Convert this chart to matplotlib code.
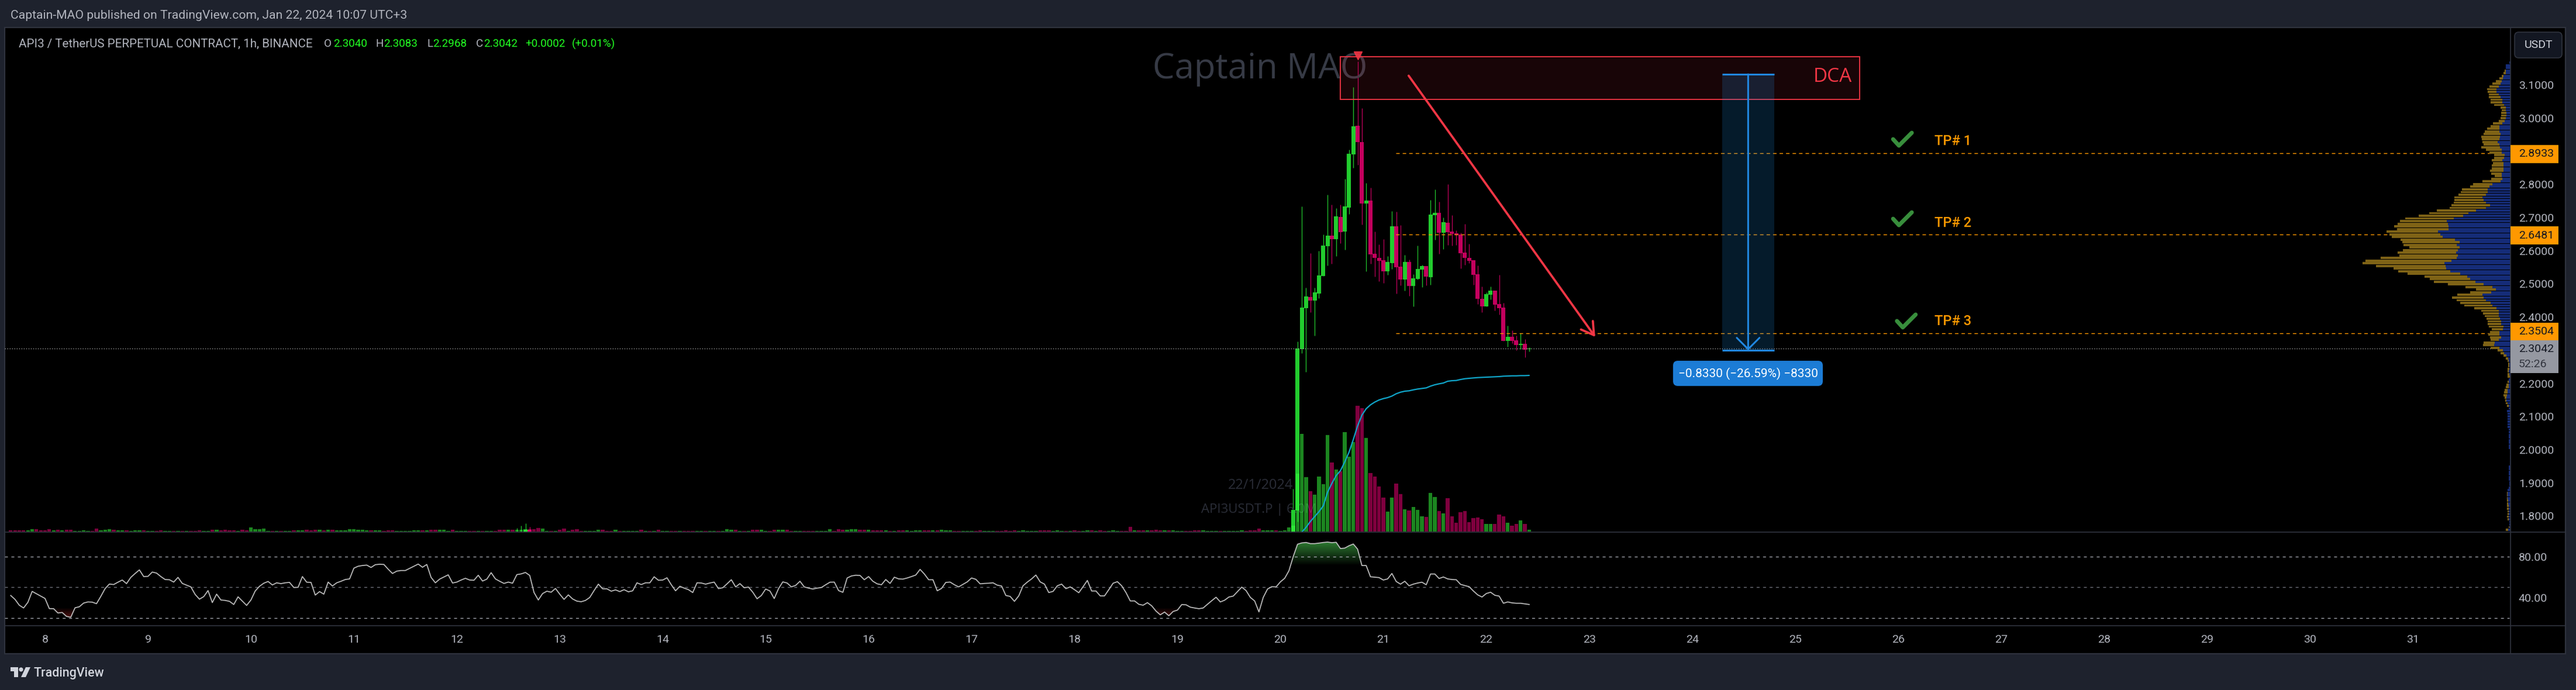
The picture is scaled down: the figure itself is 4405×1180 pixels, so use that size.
import numpy as np
import matplotlib
matplotlib.use("Agg")
import matplotlib.pyplot as plt
from matplotlib.transforms import Affine2D
from matplotlib.patches import Rectangle, FancyBboxPatch, Circle, Polygon
from matplotlib.lines import Line2D
from matplotlib.path import Path

plt.rcParams['font.family'] = ['Roboto', 'DejaVu Sans']
plt.rcParams['lines.scale_dashes'] = False

# ---------- DATA (hours counted from Jan 8 00:00) ----------
candle_hours = [110,111,112,113] + list(range(291, 347))
candle_open = [1.70,1.72,1.74,1.758,1.74,1.817,2.3038,2.4272,2.4602,2.4496,2.4708,2.5237,2.6136,2.6454,2.6348,2.7018,2.6577,2.7301,2.8906,2.9770,2.9276,2.7424,2.7512,2.5907,2.5784,2.5713,2.5378,2.5625,2.6736,2.5519,2.5131,2.5660,2.4937,2.5148,2.5431,2.5537,2.5201,2.7071,2.7142,2.6542,2.6842,2.6577,2.6524,2.6489,2.5942,2.5784,2.5713,2.5290,2.4549,2.4319,2.4672,2.4796,2.4390,2.4284,2.3279,2.3402,2.3296,2.3155,2.3190,2.3040]
candle_high = [1.764,1.770,1.778,1.767,1.882,2.326,2.7330,2.4884,2.5931,2.4884,2.5989,2.6489,2.7683,2.7389,2.7283,2.7389,2.8165,2.9047,3.0934,3.1711,3.0299,2.8041,2.7900,2.6577,2.6189,2.6348,2.5836,2.7195,2.7177,2.6771,2.5872,2.5731,2.5290,2.6154,2.5572,2.5537,2.7530,2.7847,2.7477,2.7001,2.8006,2.7071,2.6613,2.6536,2.6807,2.6207,2.5713,2.5554,2.4919,2.4743,2.4919,2.4796,2.5272,2.4425,2.3737,2.3596,2.3437,2.3508,2.3332,2.3083]
candle_low = [1.69,1.71,1.73,1.72,1.72,1.782,2.2908,2.2350,2.4143,2.3437,2.4566,2.5237,2.5554,2.5607,2.5836,2.6225,2.6031,2.7107,2.8500,2.8588,2.6789,2.5378,2.5607,2.5219,2.5078,2.5025,2.5272,2.5448,2.4708,2.4954,2.4796,2.4637,2.4319,2.5131,2.4902,2.4954,2.4972,2.6330,2.5907,2.6048,2.6172,2.6154,2.6172,2.5466,2.5572,2.5625,2.4972,2.4390,2.4143,2.4319,2.4531,2.4196,2.4072,2.3279,2.3102,2.3208,2.3000,2.3032,2.2785,2.2968]
candle_close = [1.72,1.74,1.758,1.745,1.818,2.305,2.4284,2.4619,2.4496,2.4743,2.5254,2.6154,2.6454,2.6348,2.7036,2.6560,2.7336,2.8923,2.9753,2.9276,2.7424,2.7512,2.5889,2.5784,2.5695,2.5378,2.5660,2.6736,2.5501,2.5131,2.5660,2.4937,2.5166,2.5448,2.5537,2.5219,2.7089,2.7142,2.6542,2.6860,2.6560,2.6507,2.6472,2.5925,2.5784,2.5695,2.5272,2.4549,2.4319,2.4690,2.4796,2.4372,2.4267,2.3279,2.3402,2.3279,2.3155,2.3190,2.3014,2.3042]

# signed volume, positive on up candles (tens of thousands)
volume_a = [-2,-2,-2,-2,2,4,-4,-2,-2,-4,2,-3,2,-3,-3,1,1,2,1,-1,-5,2,3,4,-3,2,2,-2,1,2,2,-2,1,1,-1,-2,1,1,-1,1,-1,1,-1,-1,-2,1,1,-3,3,-2,-3,-2,-2,1,-3,-2,7,4,4,5,1,-1,1,-1,1,1,-2,2,2,-3,-2,-3,3,-2,3,-3,2,2,2,4,4,3,3,2,-2,2,2,-1,-2,-2,1,1,1,1,2,2,-2,2,-3,-3]
volume_b = [3,3,1,-3,1,1,1,-1,-1,1,-1,1,1,-1,-3,-3,3,-3,3,3,4,-4,-4,-6,5,1,-1,1,-3,-5,1,-3,-4,-1,1,1,1,3,-3,-1,-1,3,-1,1,1,1,1,-3,1,-1,1,-3,1,1,-1,-1,1,-1,-1,-1,1,1,-1,1,1,-1,1,4,3,-3,1,-1,1,-3,-3,3,1,-1,-3,3,3,-3,-1,1,1,-1,-1,-1,1,1,1,4,-1,-4,-3,3,4,4,-3,-3,3]
volume_c = [-2,-2,-2,2,-1,1,-2,-2,2,1,2,2,-2,-2,2,-2,3,2,2,-1,-1,1,1,1,-1,-2,1,1,1,-1,-1,-2,-1,-2,1,2,1,1,1,-2,-2,-2,1,2,1,-1,1,-2,-1,1,2,-2,1,-2,-1,1,2,1,-1,-1,-8,2,-2,-2,2,-2,-3,-2,2,-2,2,1,1,-1,-1,-2,-2,2,1,1,1,-1,1,1,1,1,2,-1,-2,-2,-5,2,2,2,-2,1,2,7]
volume_d = [10,99,167,93,-69,63,94,81,165,-118,106,-103,170,128,153,-215,-211,160,-100,-94,-77,-58,34,58,-82,-64,38,-36,42,37,26,-25,66,59,-35,31,-57,-26,-15,-33,-35,-16,-23,-24,-21,13,13,-13,-29,-26,15,-10,-13,19,-13,3]
volume_starts = [-8, 92, 193, 291]

vwap = [1.7510,1.7658,1.7834,1.7981,1.8128,1.8304,1.8716,1.8981,1.9216,1.9363,1.9627,1.9921,2.0304,2.0715,2.1039,2.1233,2.1350,2.1433,2.1497,2.1538,2.1568,2.1615,2.1685,2.1732,2.1762,2.1774,2.1803,2.1827,2.1844,2.1862,2.1915,2.1956,2.1985,2.2009,2.2062,2.2079,2.2085,2.2115,2.2138,2.2150,2.2162,2.2173,2.2179,2.2185,2.2191,2.2197,2.2203,2.2215,2.2220,2.2226,2.2226,2.2232,2.2232,2.2238]
vwap_start = 293

rsi = [41.9,38.1,32.4,29.7,35.2,45.9,43.6,41.3,39.0,29.1,29.0,24.8,25.3,21.5,20.6,29.9,30.9,34.5,35.6,35.4,33.9,41.0,48.6,53.1,52.6,54.9,57.0,53.5,59.6,63.4,66.9,60.4,60.6,64.8,63.8,60.4,57.5,57.3,55.0,59.6,53.7,52.0,50.3,42.9,38.3,40.8,46.7,35.0,43.2,37.5,37.1,36.2,33.1,40.6,36.4,32.2,37.5,46.3,50.9,53.9,55.6,52.2,54.3,53.5,54.3,54.7,49.7,49.9,60.4,54.9,54.7,42.3,45.7,43.2,55.0,51.2,54.3,55.8,57.5,58.1,68.6,70.5,71.2,71.6,69.3,72.0,72.4,72.2,67.6,63.4,65.7,66.3,66.3,68.4,70.5,72.6,69.5,72.2,59.6,54.3,57.9,60.0,62.1,54.1,55.0,57.0,58.7,57.0,56.8,61.7,56.0,57.9,64.2,58.1,55.8,53.7,55.0,53.9,62.3,63.0,64.4,61.5,44.8,37.5,43.8,46.1,45.1,48.8,43.2,38.1,42.5,38.5,36.4,35.8,37.1,40.0,46.7,53.0,48.4,48.4,46.1,47.4,45.7,47.6,45.5,46.5,54.3,52.6,54.3,54.3,60.2,56.8,57.0,59.2,52.4,46.5,50.9,49.1,47.6,44.8,54.3,54.1,53.0,54.1,55.0,48.6,49.5,53.3,57.3,50.3,53.5,49.5,50.1,45.1,38.7,
41.9,48.2,46.3,38.9,48.6,55.2,54.1,50.3,51.8,55.8,50.3,49.1,48.2,49.1,49.7,52.4,54.9,55.0,46.7,45.0,59.0,61.0,61.7,61.5,57.3,60.4,55.8,53.3,52.4,57.5,53.7,59.8,58.1,57.9,59.0,60.4,61.9,67.4,62.9,57.3,57.3,46.5,48.8,54.7,55.0,52.4,50.3,52.8,55.2,59.0,57.7,53.3,53.7,53.9,54.3,52.0,51.2,41.9,41.0,36.2,41.5,51.4,55.0,58.1,61.9,55.2,53.0,44.8,45.9,51.4,53.0,48.6,50.3,47.6,44.6,50.5,56.6,46.3,46.3,41.5,41.5,47.6,53.9,55.4,51.4,44.8,36.6,36.6,33.3,32.4,34.9,31.8,26.7,23.0,25.7,22.1,26.3,27.6,33.0,32.8,30.5,29.7,29.0,29.7,33.3,36.8,40.2,35.6,37.3,40.4,41.3,45.7,50.1,46.7,40.0,36.6,25.9,40.0,48.2,50.5,50.3,55.2,58.7,66.1,80.0,92.0,93.3,93.7,92.6,92.6,93.1,93.7,94.1,93.5,93.9,87.8,88.2,90.5,92.2,87.2,71.2,71.2,60.2,59.8,59.4,57.0,58.1,63.4,55.6,53.0,55.8,51.4,53.0,54.1,54.9,52.4,62.9,62.9,58.5,60.0,58.1,57.5,57.3,52.8,51.6,50.5,46.3,42.5,40.4,43.8,45.1,42.1,41.3,34.3,35.6,34.7,34.3,34.3,33.7,33.1]
rsi_start = -8

profile_buy = [1.7,8.3,8.3,8.3,8.3,11.7,12.7,15,16.7,20,24,24,20,17.3,14,14,11,7.7,7.7,7.3,7.3,8.3,10,14,19.3,19.3,19.3,17.3,18.3,19.3,21.7,19.3,18.3,15,15,10,10.7,14,12.3,12.3,12.3,12.3,15,15,14,17.3,31.3,36.3,39.3,39.3,42.3,48.3,46.3,42.3,35.3,42.3,59.3,72.3,81.3,97.3,109.3,107.3,106.3,106.3,124.3,120.3,116.3,95.3,87.3,92.3,87.3,90.3,93.3,90.3,92.3,101.3,113.3,111.3,110.3,103.3,86.3,74.3,69.3,60.3,46.3,31.3,25.3,33.3,48.3,46.3,42.3,34.3,31.3,24.3,20.3,20.3,20.3,18.3,16.3,16.3,12.3,13.3,19.3,19.3,16.3,20.3,27.3,28.3,19.3,13.3,11.3,7.3,4.3,2.7,1.7,1.7,1.7,2.7,1.7,0.7,3.3,3.3,3.3,3.3,4.7,5,6,
6.7,7.3,5.3,3.3,2.7,6,5,5,5.3,5.3,5.3,5.3,3.3,3,3,3,3,3,3,3,1.3,1.3,1.3,1,1,1,3,3,3,3,3,3,2,2,3.3,5,5,5,5,4,4,3.3,3.3,2.7,2.7,2.7,2.7,2,2,2,4.3]
profile_sell = [0,0,0,1.7,4,3.3,6.7,10,14,15.7,16.3,15.3,17.3,20,20.3,20.3,17.3,9.7,7.3,9,9,9,10,16.3,15,21,25,29,32,30,26.7,27,32,27.3,21.3,18.3,17.7,18.3,18,19.3,20,23,18.3,12.3,19.3,31,33,33,44,46,47,48,50,55,66,62,67,67,76,83,80,86,93,88,88,87,87,93,98,91,86,94,100,100,130,147,140,119,90,89,90,73,69,71,61,46,34,36,43,54,50,52,48,38,30,27,24,23,23,23,25,19,16,19,19,14,19,19,15,9,6,5,4,2.7,2.7,2.7,3.3,2.7,3.7,4.7,0,2,4,5,5.3,6,6.3,
3.3,2,2.7,2.7,0.7,0,0,0,0,0,0,0,0,0,0,0,0,0,0,0,0,0,0,0,0,0,0,0,0,0,0,0,0,0,0,0,1,1,1,2,2,2.7,2.7,2.7,2.7,3.3,2,0,0,1.3,4]
profile_top_price = 3.167
profile_step = 0.00796

tp_levels = [2.8933, 2.6481, 2.3504]
tp_names = ['TP# 1', 'TP# 2', 'TP# 3']
last_price = 2.3042
price_ticks = [3.1, 3.0, 2.8, 2.7, 2.6, 2.5, 2.4, 2.2, 2.1, 2.0, 1.9, 1.8]
rsi_ticks = [80, 40]
rsi_levels = [80, 50, 20]
day_labels = list(range(8, 32))

dca_hours, dca_prices = (302.0, 423.0), (3.0564, 3.1847)
arrow_start, arrow_end = (317.9, 3.128), (361.4, 2.340)
measure_hours, measure_prices = (391.0, 403.1), (3.1322, 2.2992)
check_hours = [432.2, 432.2, 433.1]
check_prices = [2.917, 2.677, 2.3686]

# ---------- LAYOUT ----------
W, H = 4405, 1180
BG = '#1E222D'; BORDER = '#2F333E'; TXT = '#B2B5BE'
UP = '#22CC2E'; DOWN = '#C4005E'; ORANGE = '#FF9800'; RED = '#F23645'; BLUE = '#2187E0'
fig = plt.figure(figsize=(W/100, H/100), dpi=100, facecolor=BG)
pix = Affine2D().scale(1, -1).translate(0, H)

def rect(x0, y0, x1, y1):
    return [x0/W, 1-y1/H, (x1-x0)/W, (y1-y0)/H]

PX_HOUR, PX_X0 = 7.335, 77.0
PX_PRICE = 566.9
hour_lim = ((8-PX_X0)/PX_HOUR, (4293-PX_X0)/PX_HOUR)
price_lim = (3.1-(910-145.3)/PX_PRICE, 3.1+(145.3-47)/PX_PRICE)
rsi_lim = (80-(1070-951.7)/1.75, 80+(951.7-910)/1.75)

fig.add_artist(Rectangle((8, 47), 4379, 1071, transform=pix, fc='black', ec=BORDER, lw=1.5, zorder=-1))

def layer(z, r=(8, 47, 4293, 910)):
    a = fig.add_axes(rect(*r), zorder=z)
    a.patch.set_visible(False)
    a.set_xlim(hour_lim); a.set_ylim(price_lim)
    for s in a.spines.values():
        s.set_visible(False)
    a.set_xticks([]); a.set_yticks([])
    return a

# main pane ---------------------------------------------------------
ax = layer(0.1)
ax.yaxis.tick_right()
ax.set_yticks(price_ticks)
ax.set_yticklabels([f'{p:.4f}' for p in price_ticks], color=TXT, fontsize=14)
ax.tick_params(axis='y', length=0, pad=10)

ax.text(2155, 118, 'Captain MAO', transform=pix, color='#363A45', fontsize=43,
        family='Open Sans', ha='center', va='center')
ax.text(2211, 830, '22/1/2024', transform=pix, color='#2A2D37', fontsize=17,
        family='Open Sans', ha='right', va='center')
ax.text(2251, 872, 'API3USDT.P | 6.0M', transform=pix, color='#2A2D37', fontsize=16,
        family='Open Sans', ha='right', va='center')

hrs = np.array(candle_hours, float)
o, h, l, c = map(np.array, (candle_open, candle_high, candle_low, candle_close))
up = c >= o
cols = [UP if u else DOWN for u in up]
ax.vlines(hrs, l, h, colors=cols, lw=0.85, zorder=2)
ax.bar(hrs, np.maximum(np.abs(c-o), 0.001), bottom=np.minimum(o, c), width=0.96, color=cols, lw=0, zorder=3)

ax.hlines(tp_levels, 314.9, hour_lim[1], colors=ORANGE, lw=1.0, linestyles=[(0, (4.3, 3.7))], zorder=4)
ax.hlines(last_price, hour_lim[0], hour_lim[1], colors='#A8A8A8', lw=0.9, linestyles=[(0, (1.0, 1.9))], zorder=4)

# volume overlay ----------------------------------------------------
axv = layer(0.2, (8, 47, 4293, 909))
axv.set_ylim(0, 862)
for start, vals in zip(volume_starts, (volume_a, volume_b, volume_c, volume_d)):
    vals = np.array(vals, float)
    x = start + np.arange(len(vals))
    axv.bar(x[vals >= 0], vals[vals >= 0], width=0.86, color='#36FF3E', alpha=0.53, lw=0)
    axv.bar(x[vals < 0], -vals[vals < 0], width=0.86, color='#FF007C', alpha=0.50, lw=0)

# volume profile ----------------------------------------------------
axp = layer(0.3)
axp.set_xlim(4285, 0)
buy = np.array(profile_buy); sell = np.array(profile_sell)
n = min(len(buy), len(sell))
rows = profile_top_price - profile_step*np.arange(n)
axp.barh(rows, buy[:n], height=0.0068, color='#152C78', lw=0)
axp.barh(rows, sell[:n], left=buy[:n], height=0.0068, color='#7F6316', lw=0)

# drawings ----------------------------------------------------------
axt = layer(0.4)
axt.plot(vwap_start+np.arange(len(vwap)), vwap, color='#10A5C9', lw=1.6, zorder=3, solid_capstyle='round')

axt.add_patch(Rectangle((dca_hours[0], dca_prices[0]), dca_hours[1]-dca_hours[0], dca_prices[1]-dca_prices[0],
                        fc=(242/255, 54/255, 69/255, 0.1), ec=RED, lw=1.3, zorder=2))
axt.text(3167, 132, 'DCA', transform=pix, color=RED, fontsize=24, ha='right', va='center', family='Open Sans')
axt.annotate('', xy=arrow_end, xytext=arrow_start, zorder=5,
             arrowprops=dict(arrowstyle='->,head_length=15,head_width=9', mutation_scale=1, color=RED, lw=2.7,
                             shrinkA=0, shrinkB=0))
axt.plot([306], [3.1887], marker='v', ms=10, color=RED, mec=RED, alpha=0.9, zorder=6)

m0, m1 = measure_hours; mt, mb = measure_prices
axt.add_patch(Rectangle((m0, mb), m1-m0, mt-mb, fc=(33/255, 150/255, 243/255, 0.18), lw=0, zorder=3))
axt.hlines([mt, mb], m0, m1, colors=BLUE, lw=2.2, zorder=4)
axt.annotate('', xy=((m0+m1)/2, mb), xytext=((m0+m1)/2, mt), zorder=5,
             arrowprops=dict(arrowstyle='->,head_length=14,head_width=14', mutation_scale=1, color=BLUE, lw=2.2,
                             shrinkA=0, shrinkB=0))
fig.add_artist(FancyBboxPatch((2865, 621), 248, 35, boxstyle='round,pad=4,rounding_size=8', transform=pix,
                              fc='#1C7CD5', ec='none', zorder=4))
fig.text(2989, 639, '\u22120.8330 (\u221226.59%) \u22128330', transform=pix, color='white', fontsize=15,
         ha='center', va='center', zorder=5)

for ch, cp in zip(check_hours, check_prices):
    axt.plot([ch-10/PX_HOUR, ch, ch+22/PX_HOUR], [cp+11/PX_PRICE, cp, cp+22/PX_PRICE], color='#388E3C', lw=5,
             solid_capstyle='round', solid_joinstyle='round', zorder=5)
for name, y in zip(tp_names, (242, 381, 550)):
    fig.text(3308, y, name, transform=pix, color=ORANGE, fontsize=17, weight='medium', ha='left', va='center', zorder=5)

# RSI pane ----------------------------------------------------------
axr = fig.add_axes(rect(8, 910, 4293, 1070), zorder=0.1)
axr.patch.set_visible(False)
for s in axr.spines.values():
    s.set_visible(False)
axr.set_xlim(hour_lim); axr.set_ylim(rsi_lim)
axr.set_xticks([])
axr.yaxis.tick_right()
axr.set_yticks(rsi_ticks)
axr.set_yticklabels([f'{v:.2f}' for v in rsi_ticks], color=TXT, fontsize=14)
axr.tick_params(axis='y', length=0, pad=10)
rsi_x = rsi_start + np.arange(len(rsi))
rsi_a = np.array(rsi)
axr.hlines(rsi_levels, hour_lim[0], hour_lim[1]-0.3, colors=['#A0A3AB', '#6E7079', '#A0A3AB'], lw=1.0,
           linestyles=[(0, (3.6, 4.3))])

def gradient(y_black, y_full, colour, lower):
    poly = axr.fill_between(rsi_x, rsi_a, y_black, where=(rsi_a < y_black) if lower else (rsi_a > y_black),
                            interpolate=True, color='none', lw=0)
    g = np.linspace(0, 1, 256)[:, None]
    img = np.zeros((256, 1, 4))
    img[..., :3] = matplotlib.colors.to_rgb(colour)
    img[..., 3] = g
    im = axr.imshow(img, extent=(hour_lim[0], hour_lim[1], y_black, y_full), origin='lower', aspect='auto', zorder=1)
    im.set_clip_path(Path.make_compound_path(*poly.get_paths()), axr.transData)
    axr.set_xlim(hour_lim); axr.set_ylim(rsi_lim)

gradient(71, 94, '#2E7D32', False)
gradient(30, 20, '#5A1414', True)
axr.plot(rsi_x, rsi_a, color='#BDBDBD', lw=1.25, zorder=3)

# time axis ---------------------------------------------------------
axd = fig.add_axes(rect(8, 1070, 4293, 1118), zorder=0.1)
axd.patch.set_visible(False)
for s in axd.spines.values():
    s.set_visible(False)
axd.set_xlim(hour_lim); axd.set_ylim(0, 1); axd.set_yticks([])
axd.set_xticks([(d-8)*24 for d in day_labels])
axd.set_xticklabels([str(d) for d in day_labels], color=TXT, fontsize=14)
axd.tick_params(axis='x', length=0, pad=-24, labelbottom=False, labeltop=True, top=False, bottom=False)

# separators --------------------------------------------------------
for xs, ys in (((8, 4387), (910, 910)), ((8, 4387), (1070, 1070)), ((4293, 4293), (47, 1118))):
    fig.add_artist(Line2D(xs, ys, transform=pix, color=BORDER, lw=1.2, zorder=2))

# price badges ------------------------------------------------------
for (y0, y1, s) in ((248, 279, '2.8933'), (387, 418, '2.6481'), (552, 582, '2.3504')):
    fig.add_artist(Rectangle((4293, y0), 82, y1-y0, transform=pix, fc=ORANGE, ec='none', zorder=3))
    fig.text(4307, (y0+y1)/2, s, transform=pix, color='#131722', fontsize=14, ha='left', va='center', zorder=5)
fig.add_artist(Rectangle((4293, 582), 82, 56, transform=pix, fc='#9598A1', ec='none', zorder=3))
fig.text(4307, 597, '2.3042', transform=pix, color='#131722', fontsize=14, ha='left', va='center', zorder=5)
fig.text(4307, 623, '52:26', transform=pix, color='#33363F', fontsize=14, ha='left', va='center', zorder=5)
fig.add_artist(FancyBboxPatch((4304, 59), 73, 36, boxstyle='round,pad=4,rounding_size=7', transform=pix,
                              fc='#131722', ec=BORDER, lw=1.2, zorder=3))
fig.text(4341, 77, 'USDT', transform=pix, color='#D1D4DC', fontsize=14, ha='center', va='center', zorder=5)

# header ------------------------------------------------------------
fig.text(18, 27, 'Captain-MAO published on TradingView.com, Jan 22, 2024 10:07 UTC+3', transform=pix,
         color=TXT, fontsize=15.2, ha='left', va='center')
GREEN = '#22FF22'
fig.text(32, 75, 'API3 / TetherUS PERPETUAL CONTRACT, 1h, BINANCE', transform=pix, color=TXT, fontsize=14.8,
         ha='left', va='center', zorder=5)
legend_parts = [(554, 'O', TXT), (570, '2.3040', GREEN),
                (642, 'H', TXT), (656, '2.3083', GREEN), (730, 'L', TXT), (740, '2.2968', GREEN), (814, 'C', TXT),
                (827, '2.3042', GREEN), (898, '+0.0002', GREEN), (978, '(+0.01%)', GREEN)]
for x, s, col in legend_parts:
    fig.text(x, 75, s, transform=pix, color=col, fontsize=13.6, ha='left', va='center', zorder=5)

# logo --------------------------------------------------------------
LOGO = '#D1D4DC'
fig.add_artist(Polygon([(18, 1141), (31, 1141), (31, 1158), (24, 1158), (24, 1148), (18, 1148)], transform=pix, fc=LOGO, ec='none'))
fig.add_artist(Circle((36, 1145), 3.6, transform=pix, fc=LOGO, ec='none'))
fig.add_artist(Polygon([(44, 1141), (52, 1141), (44, 1158), (36, 1158)], transform=pix, fc=LOGO, ec='none'))
fig.text(58, 1151, 'TradingView', transform=pix, color=LOGO, fontsize=15.5, weight='medium', ha='left', va='center')

fig.savefig('out.png', dpi=100, facecolor=BG)
